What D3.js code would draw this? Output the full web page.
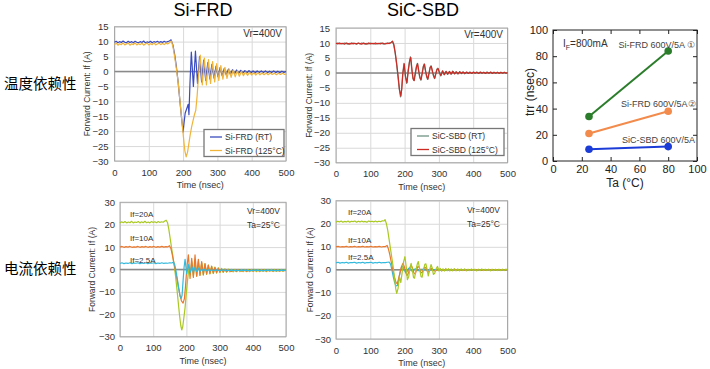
<!DOCTYPE html>
<html>
<head>
<meta charset="utf-8">
<script src="https://cdn.jsdelivr.net/npm/d3@7"></script>
<style>
body { margin: 0; background: #fff; }
svg { display: block; font-family: Arial, "Liberation Sans", sans-serif; }
</style>
</head>
<body>
<svg id="chart" width="710" height="369"></svg>
<script>
// tick labels
var timeTicks = [0, 100, 200, 300, 400, 500];
var tempTicks = [15, 10, 5, 0, -5, -10, -15, -20, -25, -30];
var currTicks = [30, 20, 10, 0, -10, -20, -30];
var taTicks = [0, 20, 40, 60, 80, 100];
var trrTicks = [0, 20, 40, 60, 80, 100];

// Si-FRD, temperature dependence [time ns, If A]
var siFrdRT = [[0,9.8],[5,10.1],[10,9.6],[15,10.0],[20,9.7],[25,10.2],[30,9.8],[35,9.6],[40,10.1],[45,9.7],[50,10.0],[55,9.6],[60,10.1],[65,9.8],[70,9.6],[75,10.0],[80,9.7],[85,10.2],[90,9.6],[95,9.9],[100,9.7],[105,10.1],[110,9.6],[115,10.0],[120,9.8],[125,10.1],[130,9.7],[135,10.0],[140,9.7],[145,10.1],[150,9.8],[155,10.0],[160,10.2],[165,10.6],
  [170,9],[175,6],[180,2],[185,-3],[190,-9],[195,-15],[200,-20.3],[203,-17],[206,-14],[209,-13],[212,-12],[215,-11],[217,-14.5],[220,-4],[224,6.5],[230,-5],[236,6.8],[242,-4],[248,5],[254,-3.5],[260,3.8],[266,-3],[272,3],[278,-2.5],[284,2.4],[290,-2.2],[296,1.8],[302,-1.8],[308,1.4],[314,-1.5],[320,1],[326,-1.2],[332,0.8],[338,-1],[344,0.6],[350,-0.8],[356,0.5],[362,-0.7],[368,0.4],[374,-0.6],[380,0.3],[386,-0.5],[392,0.3],[398,-0.5],[404,0.2],[410,-0.5],[416,0.2],[422,-0.4],[428,0.2],[434,-0.4],[440,0.2],[446,-0.4],[452,0.1],[458,-0.4],[464,0.2],[470,-0.4],[476,0.1],[482,-0.4],[488,0.1],[494,-0.3],[500,0]];
var siFrdHot = [[0,9.0],[5,9.5],[10,8.8],[15,9.3],[20,9.0],[25,9.6],[30,8.9],[35,9.2],[40,9.5],[45,8.8],[50,9.3],[55,9.0],[60,9.6],[65,8.9],[70,9.3],[75,9.0],[80,9.5],[85,8.8],[90,9.2],[95,9.5],[100,8.9],[105,9.3],[110,9.0],[115,9.6],[120,8.9],[125,9.2],[130,9.5],[135,9.0],[140,9.4],[145,9.0],[150,9.5],[155,9.2],[160,9.6],[166,10.2],
  [171,8],[176,4.5],[181,0.5],[186,-4],[191,-10],[196,-16],[201,-22],[205,-26.5],[209,-28.6],[213,-27],[217,-24],[221,-21],[225,-18.5],[229,-16.5],[233,-14.5],[237,-13],[241,-8],[244,-3],[247,1.5],[250,5.5],[256,-4.5],[262,4.5],[268,-4.5],[274,4],[280,-4],[286,3.3],[292,-3.5],[298,2.6],[304,-3],[310,2],[316,-2.6],[322,1.4],[328,-2.3],[334,0.9],[340,-2],[346,0.5],[352,-1.8],[358,0.2],[364,-1.6],[370,0],[376,-1.4],[382,-0.2],[388,-1.3],[394,-0.3],[400,-1.2],[406,-0.4],[412,-1.2],[418,-0.4],[424,-1.1],[430,-0.5],[436,-1.1],[442,-0.5],[448,-1.1],[454,-0.5],[460,-1.0],[466,-0.6],[472,-1.1],[478,-0.6],[484,-1.0],[490,-0.6],[496,-1.0],[500,-0.8]];

// SiC-SBD, temperature dependence
var sicRT = [[0,9.8],[5,10.0],[10,9.7],[15,9.9],[20,9.7],[25,10.0],[30,9.8],[35,9.6],[40,9.9],[45,9.7],[50,10.0],[55,9.8],[60,9.6],[65,9.9],[70,9.7],[75,10.0],[80,9.8],[85,9.6],[90,9.9],[95,9.7],[100,10.0],[105,9.7],[110,9.9],[115,9.6],[120,9.9],[125,9.7],[130,10.0],[135,9.8],[140,9.6],[145,9.9],[150,9.8],[155,10.0],[160,10.1],[164,10.5],
  [168,9.5],[172,7],[176,3.5],[180,-0.5],[184,-5],[188,-8],[191,-6],[194,-1],[198,3.2],[202,-1],[206,-3.5],[210,0.5],[214,3.8],[217,5.4],[221,1],[224,-1.8],[227,-2.5],[231,0],[234,2],[237,3.2],[241,0.5],[244,-1.5],[247,-2.4],[251,0],[254,2],[257,3],[261,0.5],[264,-1.2],[267,-2.2],[271,0],[274,1.8],[277,2.4],[281,0.4],[284,-1],[287,-1.9],[291,0],[294,1.2],[297,1.6],[301,0.2],[305,-1],[310,0.6],[315,-0.6],[320,0.5],[325,-0.5],[330,0.4],[335,-0.4],[340,0.6],[345,-0.3],[350,0.4],[355,-0.3],[360,0.3],[365,-0.2],[370,0.3],[375,-0.3],[380,0.2],[385,-0.2],[390,0.3],[395,-0.2],[400,0.2],[405,-0.2],[410,0.3],[415,-0.1],[420,0.2],[425,-0.2],[430,0.2],[435,-0.1],[440,0.3],[445,-0.2],[450,0.2],[455,-0.1],[460,0.2],[465,-0.2],[470,0.2],[475,-0.1],[480,0.2],[485,-0.2],[490,0.2],[495,-0.1],[500,0.1]];
var sicHot = [[0,9.9],[5,9.7],[10,10.0],[15,9.7],[20,9.9],[25,9.6],[30,10.0],[35,9.8],[40,9.6],[45,10.0],[50,9.7],[55,9.9],[60,9.7],[65,10.0],[70,9.8],[75,9.6],[80,10.0],[85,9.8],[90,9.6],[95,10.0],[100,9.7],[105,9.9],[110,9.7],[115,10.0],[120,9.7],[125,9.9],[130,9.7],[135,10.0],[140,9.8],[145,9.7],[150,10.0],[155,9.8],[160,10.1],[165,10.6],
  [169,9.3],[173,6.5],[177,3],[181,-1],[185,-5.5],[189,-7.8],[192,-5],[195,0],[199,3],[203,-1.5],[207,-3.3],[211,1],[215,4.2],[218,5.2],[222,0.5],[225,-2],[228,-2.6],[232,0.2],[235,2.2],[238,3.1],[242,0.2],[245,-1.7],[248,-2.3],[252,0.2],[255,2.2],[258,2.9],[262,0.2],[265,-1.4],[268,-2.1],[272,0.2],[275,1.9],[278,2.2],[282,0.2],[285,-1.1],[288,-1.8],[292,0.1],[295,1.3],[298,1.4],[302,0],[306,-0.9],[311,0.7],[316,-0.6],[321,0.5],[326,-0.4],[331,0.5],[336,-0.4],[341,0.5],[346,-0.3],[351,0.3],[356,-0.3],[361,0.4],[366,-0.2],[371,0.3],[376,-0.2],[381,0.3],[386,-0.2],[391,0.2],[396,-0.2],[401,0.3],[406,-0.1],[411,0.2],[416,-0.2],[421,0.3],[426,-0.1],[431,0.2],[436,-0.2],[441,0.2],[446,-0.1],[451,0.3],[456,-0.2],[461,0.2],[466,-0.1],[471,0.2],[476,-0.2],[481,0.2],[486,-0.1],[491,0.2],[496,-0.1],[500,0.1]];

// Si-FRD, current dependence
var siFrd20A = [[0,20.8],[5,21.3],[10,20.9],[15,21.4],[20,20.8],[25,21.2],[30,20.9],[35,21.5],[40,20.8],[45,21.2],[50,21.0],[55,21.4],[60,20.8],[65,21.3],[70,20.9],[75,21.5],[80,20.9],[85,21.2],[90,20.8],[95,21.4],[100,21.0],[105,21.3],[110,20.9],[115,21.4],[120,21.0],[125,21.3],[130,21.1],[135,21.6],[139,22],
  [143,21],[147,18],[151,14],[155,10],[159,6],[163,2],[167,-2.5],[171,-8],[175,-14],[179,-20],[183,-25],[186,-27],[189,-25.5],[192,-22],[196,-17],[200,-10],[204,-4],[208,1],[212,-2],[216,3.5],[221,-3],[226,4],[231,-3],[236,3.5],[241,-2.5],[246,3],[251,-2.5],[256,2.5],[261,-2.2],[266,2],[271,-2],[276,1.5],[281,-1.8],[286,1.1],[291,-1.6],[296,0.8],[301,-1.4],[306,0.5],[311,-1.3],[316,0.3],[321,-1.2],[326,0.2],[331,-1.1],[336,0.1],[341,-1.1],[346,0.1],[351,-1.0],[356,0],[361,-1.0],[366,0],[371,-1.0],[376,0],[381,-0.9],[386,0],[391,-0.9],[396,0.1],[401,-0.9],[406,0],[411,-0.9],[416,0],[421,-0.9],[426,0],[431,-0.8],[436,0],[441,-0.9],[446,0],[451,-0.8],[456,0.1],[461,-0.9],[466,0],[471,-0.8],[476,0],[481,-0.8],[486,0],[491,-0.8],[496,0],[500,-0.4]];
var siFrd10A = [[0,10.0],[6,10.3],[12,9.9],[18,10.2],[24,10.0],[30,10.3],[36,9.9],[42,10.1],[48,10.0],[54,10.3],[60,9.9],[66,10.2],[72,10.0],[78,10.3],[84,9.9],[90,10.2],[96,10.0],[102,10.3],[108,9.9],[114,10.2],[120,10.0],[126,10.3],[132,10.0],[138,10.2],[144,10.1],[149,10.6],
  [153,9.5],[157,7],[161,4],[165,1],[170,-3],[175,-7],[180,-11],[185,-14],[190,-15],[194,-13],[197,-8],[200,-2],[203,3],[206,6.5],[211,-4],[216,5],[221,-3.5],[226,6.5],[231,-3],[236,4.5],[241,-2.6],[246,3.5],[251,-2.3],[256,2.6],[261,-2],[266,2],[271,-1.8],[276,1.4],[281,-1.6],[286,0.9],[291,-1.4],[296,0.5],[301,-1.2],[306,0.2],[311,-1.1],[316,0],[321,-1],[328,-0.2],[335,-0.9],[342,-0.3],[350,-0.8],[358,-0.3],[366,-0.7],[374,-0.4],[382,-0.7],[390,-0.4],[400,-0.6],[410,-0.4],[420,-0.6],[430,-0.4],[440,-0.6],[450,-0.4],[460,-0.6],[470,-0.4],[480,-0.6],[490,-0.4],[500,-0.5]];
var siFrd25A = [[0,2.7],[6,3.0],[12,2.6],[18,2.9],[24,2.7],[30,3.0],[36,2.6],[42,2.9],[48,2.8],[54,3.0],[60,2.6],[66,2.9],[72,2.7],[78,3.0],[84,2.6],[90,2.9],[96,2.8],[102,3.0],[108,2.6],[114,2.9],[120,2.7],[126,3.0],[132,2.7],[138,2.9],[144,2.8],[150,3.0],[156,2.9],[161,3.3],
  [165,2],[169,-1],[173,-4.5],[177,-8.5],[181,-12],[184,-13],[187,-11.5],[190,-5],[193,1],[196,4.5],[201,-2],[206,2.2],[211,-1.5],[216,1.5],[221,-1.1],[226,1],[231,-0.9],[236,0.6],[241,-0.8],[246,0.3],[251,-0.7],[256,0.1],[261,-0.6],[266,0],[271,-0.6],[276,-0.1],[282,-0.5],[290,-0.2],[300,-0.5],[310,-0.2],[320,-0.5],[335,-0.3],[350,-0.5],[370,-0.3],[390,-0.5],[410,-0.3],[430,-0.5],[450,-0.3],[470,-0.5],[490,-0.3],[500,-0.4]];

// SiC-SBD, current dependence
var sic20A = [[0,20.7],[5,21.1],[10,20.8],[15,21.2],[20,20.7],[25,21.0],[30,20.8],[35,21.2],[40,20.7],[45,21.1],[50,20.9],[55,21.2],[60,20.7],[65,21.1],[70,20.8],[75,21.2],[80,20.8],[85,21.0],[90,20.7],[95,21.2],[100,20.9],[105,21.1],[110,20.8],[115,21.2],[120,20.8],[125,21.1],[130,20.9],[135,21.3],[140,21.2],[143,21.8],
  [147,20],[151,17],[155,13],[159,9],[163,5],[167,1],[171,-4],[174,-8],[177,-10.2],[181,-8],[185,-3],[189,-5.5],[193,-1],[197,3.5],[201,5.7],[205,1],[208,-4.3],[212,-3],[216,1],[219,2.8],[222,0.5],[226,-3.3],[229,-3.6],[233,0],[237,2.5],[240,3.6],[244,0.2],[248,-3],[251,-3.2],[255,0],[259,2.4],[262,2.6],[266,0],[269,-2.6],[273,0],[277,2.3],[280,1],[284,-2],[288,-1.4],[292,0.5],[296,1.5],[300,-0.5],[304,0.6],[308,-0.6],[312,0.5],[316,-0.5],[320,0.6],[324,-0.4],[328,0.5],[332,-0.5],[336,0.4],[340,-0.4],[345,0.5],[350,-0.4],[355,0.4],[360,-0.4],[365,0.4],[370,-0.3],[375,0.4],[380,-0.4],[385,0.3],[390,-0.3],[395,0.4],[400,-0.3],[405,0.3],[410,-0.4],[415,0.3],[420,-0.3],[425,0.4],[430,-0.3],[435,0.3],[440,-0.3],[445,0.3],[450,-0.4],[455,0.3],[460,-0.3],[465,0.3],[470,-0.3],[475,0.3],[480,-0.3],[485,0.3],[490,-0.3],[495,0.3],[500,0]];
var sic10A = [[0,10.0],[6,10.2],[12,9.9],[18,10.1],[24,10.0],[30,10.2],[36,9.9],[42,10.1],[48,10.0],[54,10.2],[60,9.9],[66,10.1],[72,10.0],[78,10.2],[84,9.9],[90,10.1],[96,10.0],[102,10.2],[108,9.9],[114,10.1],[120,10.0],[126,10.2],[132,9.9],[138,10.1],[144,10.1],[149,10.6],
  [153,9],[157,6.5],[161,3.5],[165,0.5],[170,-3],[175,-5.5],[179,-6],[183,-3.5],[187,-1],[191,1.5],[195,2.8],[199,1.5],[203,-1],[207,-2.5],[211,-1.5],[215,0.8],[219,2],[223,0.8],[227,-1.3],[231,-1.8],[235,0],[239,1.5],[243,1],[247,-1],[251,-1.3],[255,0.2],[259,1.2],[263,0.6],[267,-0.9],[271,-0.8],[276,0.5],[281,0.6],[286,-0.5],[291,-0.4],[296,0.3],[302,0.2],[310,-0.2],[320,0.2],[335,-0.1],[350,0.1],[370,-0.1],[400,0.1],[430,-0.1],[460,0.1],[500,0]];
var sic25A = [[0,3.0],[6,3.3],[12,2.9],[18,3.2],[24,3.0],[30,3.3],[36,2.9],[42,3.2],[48,3.1],[54,3.3],[60,2.9],[66,3.2],[72,3.0],[78,3.3],[84,2.9],[90,3.2],[96,3.1],[102,3.3],[108,2.9],[114,3.2],[120,3.0],[126,3.3],[132,3.0],[138,3.2],[144,3.1],[150,3.3],[155,3.4],
  [159,2.5],[163,0],[167,-3],[171,-5.5],[175,-7],[179,-6.8],[183,-4],[187,-1],[191,1.2],[195,1.5],[199,0],[203,-1.2],[207,-0.8],[211,0.6],[215,0.9],[219,-0.2],[223,-0.7],[228,0.2],[233,0.5],[238,-0.3],[244,-0.3],[250,0.3],[258,0],[270,-0.1],[290,0.1],[320,0],[360,0.05],[420,0],[500,0]];

// trr vs Ta (IF = 800mA)
var taValues = [25, 80];
var trrSiFrd1 = [34, 84];
var trrSiFrd2 = [21, 38];
var trrSicSbd = [9, 11];

var svg = d3.select('#chart');

// row labels and titles
svg.append('text').attr('x', 4).attr('y', 89)
  .style('font-family', '"Noto Sans CJK SC", sans-serif').style('font-size', '14.5px')
  .text('温度依赖性');
svg.append('text').attr('x', 4).attr('y', 274)
  .style('font-family', '"Noto Sans CJK SC", sans-serif').style('font-size', '14.5px')
  .text('电流依赖性');
svg.append('text').attr('x', 203).attr('y', 16).attr('text-anchor', 'middle')
  .style('font-size', '18px').text('Si-FRD');
svg.append('text').attr('x', 423).attr('y', 16).attr('text-anchor', 'middle')
  .style('font-size', '18px').text('SiC-SBD');

// one waveform panel
function drawWave(p) {
  var x = d3.scaleLinear().domain([0, 500]).range([p.left, p.right]);
  var y = d3.scaleLinear().domain([p.ticks[p.ticks.length - 1], p.ticks[0]]).range([p.bottom, p.top]);
  var w = p.right - p.left, h = p.bottom - p.top;
  var g = svg.append('g');

  // grid + labels
  var ya = g.append('g').attr('transform', 'translate(' + p.left + ',0)')
    .call(d3.axisLeft(y).tickValues(p.ticks).tickSize(-w).tickPadding(p.pad));
  var xa = g.append('g').attr('transform', 'translate(0,' + p.bottom + ')')
    .call(d3.axisBottom(x).tickValues(timeTicks).tickSize(-h).tickPadding(8));
  [ya, xa].forEach(function(a) {
    a.select('.domain').remove();
    a.selectAll('line').attr('stroke', '#d9d9d9');
    a.selectAll('text').style('font-size', '9.5px').attr('fill', '#333').style('font-family', 'Arial, "Liberation Sans", sans-serif');
  });
  g.append('rect').attr('x', p.left).attr('y', p.top).attr('width', w).attr('height', h)
    .attr('fill', 'none').attr('stroke', '#a8a8a8');
  g.append('line').attr('x1', p.left).attr('x2', p.right).attr('y1', y(0)).attr('y2', y(0))
    .attr('stroke', '#8a8a8a').attr('stroke-width', 1.5);

  var line = d3.line().x(function(d) { return x(d[0]); }).y(function(d) { return y(d[1]); });
  p.series.forEach(function(s) {
    g.append('path').datum(s.data).attr('d', line).attr('fill', 'none')
      .attr('stroke', s.color).attr('stroke-width', 1.2).attr('stroke-linejoin', 'round');
  });

  g.append('text').attr('transform', 'translate(' + p.ylabX + ',' + ((p.top + p.bottom) / 2) + ') rotate(-90)')
    .attr('text-anchor', 'middle').style('font-size', '8.5px').attr('fill', '#333')
    .text('Forward Current: If (A)');
  g.append('text').attr('x', (p.left + p.right) / 2).attr('y', p.bottom + 27)
    .attr('text-anchor', 'middle').style('font-size', '9px').attr('fill', '#333')
    .text('Time (nsec)');

  p.notes.forEach(function(n) {
    g.append('text').attr('x', n.x).attr('y', n.y).attr('text-anchor', n.anchor || 'start')
      .style('font-size', n.size + 'px').attr('fill', '#333').text(n.text);
  });

  if (p.legend) {
    var L = p.legend;
    g.append('rect').attr('x', L.x).attr('y', L.y).attr('width', L.w).attr('height', 27)
      .attr('fill', '#fff').attr('stroke', '#777').attr('stroke-width', 1.3);
    p.series.forEach(function(s, i) {
      var ly = L.y + 7.5 + i * 13.5;
      g.append('line').attr('x1', L.x + 6).attr('x2', L.x + 18).attr('y1', ly).attr('y2', ly)
        .attr('stroke', s.color).attr('stroke-width', 1.3);
      g.append('text').attr('x', L.x + 21).attr('y', ly + 3).style('font-size', '8.5px')
        .attr('fill', '#333').text(s.name);
    });
  }
}

drawWave({ left: 114.5, right: 286, top: 26.7, bottom: 161, ticks: tempTicks, pad: 6, ylabX: 90,
  series: [{ name: 'Si-FRD (RT)', color: '#3b4cc0', data: siFrdRT },
           { name: 'Si-FRD (125°C)', color: '#f0b43a', data: siFrdHot }],
  legend: { x: 204, y: 129.5, w: 80 },
  notes: [{ text: 'Vr=400V', x: 282, y: 37, anchor: 'end', size: 10 }] });

drawWave({ left: 336, right: 507.5, top: 28, bottom: 162.7, ticks: tempTicks, pad: 6, ylabX: 312,
  series: [{ name: 'SiC-SBD (RT)', color: '#6f9384', data: sicRT },
           { name: 'SiC-SBD (125°C)', color: '#cc2a22', data: sicHot }],
  legend: { x: 411, y: 128.5, w: 93 },
  notes: [{ text: 'Vr=400V', x: 503, y: 37.5, anchor: 'end', size: 10 }] });

drawWave({ left: 120, right: 286, top: 202.3, bottom: 336.7, ticks: currTicks, pad: 5, ylabX: 95,
  series: [{ color: '#a9c821', data: siFrd20A },
           { color: '#e8782e', data: siFrd10A },
           { color: '#33b9dc', data: siFrd25A }],
  notes: [{ text: 'If=20A', x: 130, y: 217, size: 8 }, { text: 'If=10A', x: 130, y: 241, size: 8 },
          { text: 'If=2.5A', x: 130, y: 263, size: 8 }, { text: 'Vr=400V', x: 280, y: 214, anchor: 'end', size: 8.5 },
          { text: 'Ta=25°C', x: 280, y: 228, anchor: 'end', size: 8.5 }] });

drawWave({ left: 336, right: 507.5, top: 200.7, bottom: 339, ticks: currTicks, pad: 5, ylabX: 313,
  series: [{ color: '#33b9dc', data: sic25A },
           { color: '#e8782e', data: sic10A },
           { color: '#a9c821', data: sic20A }],
  notes: [{ text: 'If=20A', x: 348, y: 215, size: 8 }, { text: 'If=10A', x: 348, y: 243, size: 8 },
          { text: 'If=2.5A', x: 348, y: 259.5, size: 8 }, { text: 'Vr=400V', x: 500, y: 213, anchor: 'end', size: 8.5 },
          { text: 'Ta=25°C', x: 500, y: 227, anchor: 'end', size: 8.5 }] });

// trr vs Ta chart
var rx = d3.scaleLinear().domain([0, 100]).range([553, 697]);
var ry = d3.scaleLinear().domain([0, 100]).range([161, 30]);
var rg = svg.append('g');
rg.append('rect').attr('x', 553).attr('y', 30).attr('width', 144).attr('height', 131)
  .attr('fill', 'none').attr('stroke', '#222').attr('stroke-width', 1);
var axes = [
  { a: d3.axisBottom(rx).tickValues(taTicks).tickSize(-4).tickPadding(4), t: 'translate(0,161)', lab: true },
  { a: d3.axisTop(rx).tickValues(taTicks).tickSize(-4), t: 'translate(0,30)', lab: false },
  { a: d3.axisLeft(ry).tickValues(trrTicks).tickSize(-4).tickPadding(5), t: 'translate(553,0)', lab: true },
  { a: d3.axisRight(ry).tickValues(trrTicks).tickSize(-4), t: 'translate(697,0)', lab: false }
];
axes.forEach(function(o) {
  var ag = rg.append('g').attr('transform', o.t).call(o.a);
  ag.select('.domain').remove();
  ag.selectAll('line').attr('stroke', '#222');
  if (!o.lab) ag.selectAll('text').remove();
  ag.selectAll('text').style('font-size', '11px').attr('fill', '#222')
    .style('font-family', 'Arial, "Liberation Sans", sans-serif');
});
rg.append('text').attr('x', 625).attr('y', 187).attr('text-anchor', 'middle')
  .style('font-size', '12px').attr('fill', '#222').text('Ta (°C)');
rg.append('text').attr('transform', 'translate(534,92) rotate(-90)').attr('text-anchor', 'middle')
  .style('font-size', '12px').attr('fill', '#222').text('trr (nsec)');
var ifLab = rg.append('text').attr('x', 563).attr('y', 47).style('font-size', '10px').attr('fill', '#333');
ifLab.append('tspan').text('I');
ifLab.append('tspan').attr('dy', 3).style('font-size', '7px').text('F');
ifLab.append('tspan').attr('dy', -3).text('=800mA');

var trrSeries = [
  { vals: trrSiFrd1, color: '#2b7d2b', name: 'Si-FRD 600V/5A ①', lx: 695, ly: 47.5, anchor: 'end' },
  { vals: trrSiFrd2, color: '#f28b4c', name: 'Si-FRD 600V/5A②', lx: 621, ly: 106.5, anchor: 'start' },
  { vals: trrSicSbd, color: '#1c3cd8', name: 'SiC-SBD 600V/5A', lx: 622, ly: 143, anchor: 'start' }
];
var rline = d3.line().x(function(d) { return rx(d[0]); }).y(function(d) { return ry(d[1]); });
trrSeries.forEach(function(s) {
  var pts = taValues.map(function(t, i) { return [t, s.vals[i]]; });
  rg.append('path').datum(pts).attr('d', rline).attr('fill', 'none')
    .attr('stroke', s.color).attr('stroke-width', 2);
  rg.selectAll(null).data(pts).enter().append('circle')
    .attr('cx', function(d) { return rx(d[0]); }).attr('cy', function(d) { return ry(d[1]); })
    .attr('r', 3.8).attr('fill', s.color);
  rg.append('text').attr('x', s.lx).attr('y', s.ly).attr('text-anchor', s.anchor)
    .style('font-size', '9px').attr('fill', '#444').text(s.name);
});
</script>
</body>
</html>
